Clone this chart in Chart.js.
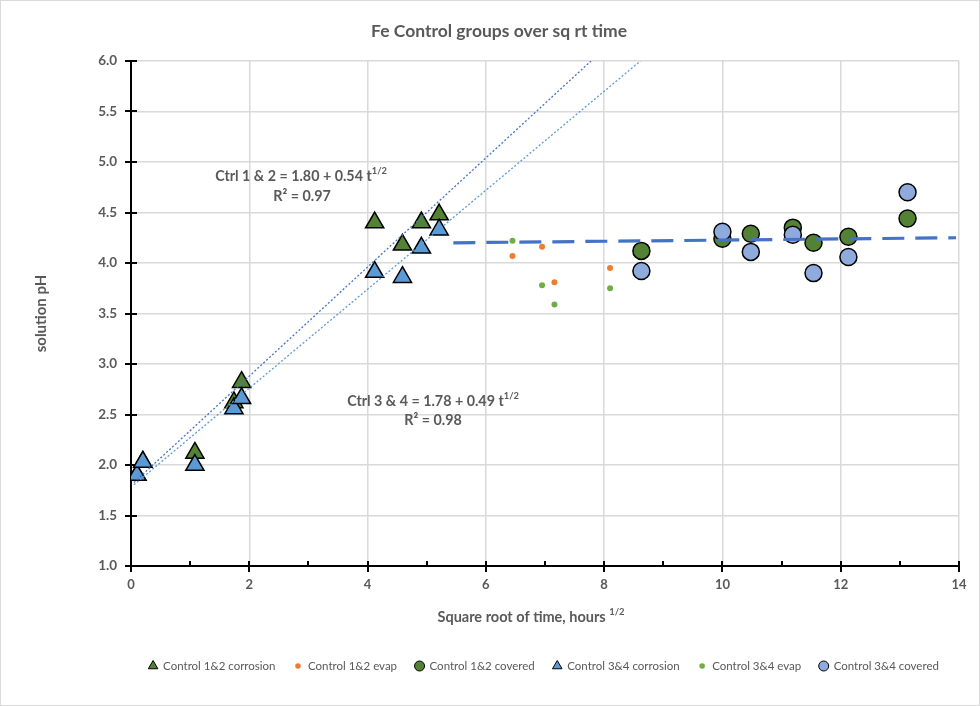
<!DOCTYPE html>
<html>
<head>
<meta charset="utf-8">
<script src="https://cdn.jsdelivr.net/npm/chart.js@4.4.1/dist/chart.umd.min.js"></script>
<style>
  body { margin: 0; background: #fff; }
  #wrap { width: 980px; height: 706px; }
</style>
</head>
<body>
<div id="wrap"><canvas id="phChart" width="980" height="706"></canvas></div>
<script>
// values (x = sqrt of hours, y = pH)
const corrX = [0.10, 0.20, 1.08, 1.74, 1.87, 4.12, 4.59, 4.91, 5.21];
const ctrl12CorrY = [1.90, 2.03, 2.12, 2.62, 2.82, 4.40, 4.18, 4.40, 4.48];
const ctrl34CorrY = [1.90, 2.03, 2.00, 2.56, 2.66, 3.91, 3.86, 4.15, 4.33];

const evapX = [6.45, 6.95, 7.16, 8.10];
const ctrl12EvapY = [4.07, 4.16, 3.81, 3.95];
const ctrl34EvapY = [4.22, 3.78, 3.59, 3.75];

const coveredX = [8.63, 10.00, 10.48, 11.19, 11.54, 12.13, 13.13];
const ctrl12CovY = [4.12, 4.24, 4.29, 4.35, 4.20, 4.26, 4.44];
const ctrl34CovY = [3.92, 4.31, 4.11, 4.28, 3.90, 4.06, 4.70];

// fitted lines from the chart labels: pH = a + b * t^1/2
const fit12 = [1.80, 0.54];
const fit34 = [1.78, 0.49];
const plateauX = [5.45, 13.95];
const plateauY = [4.20, 4.25];

const xTicks = [0, 2, 4, 6, 8, 10, 12, 14];
const yTicks = [1.0, 1.5, 2.0, 2.5, 3.0, 3.5, 4.0, 4.5, 5.0, 5.5, 6.0];

const FONT = 'Lato, "Open Sans", sans-serif';
const GREY = '#595959';

function pts(xs, ys) {
  return xs.map((x, i) => ({ x: x, y: ys[i] }));
}
function fitLine(f) {
  const x0 = 0.05, x1 = (6 - f[0]) / f[1];
  return [{ x: x0, y: f[0] + f[1] * x0 }, { x: x1, y: f[0] + f[1] * x1 }];
}

// text with a superscript part
function richText(ctx, parts, cx, cy, size) {
  let w = 0;
  parts.forEach(p => {
    ctx.font = 'bold ' + (p.sup ? size * 0.65 : size) + 'px ' + FONT;
    p.w = ctx.measureText(p.t).width;
    w += p.w;
  });
  let x = cx - w / 2;
  ctx.textAlign = 'left';
  ctx.textBaseline = 'middle';
  parts.forEach(p => {
    ctx.font = 'bold ' + (p.sup ? size * 0.65 : size) + 'px ' + FONT;
    ctx.fillText(p.t, x, p.sup ? cy - size * 0.35 : cy);
    x += p.w;
  });
}

const extras = {
  id: 'extras',
  beforeDatasetsDraw(chart) {
    const ctx = chart.ctx, xs = chart.scales.x, ys = chart.scales.y;
    const a = chart.chartArea;
    ctx.save();
    ctx.strokeStyle = '#000';
    ctx.lineWidth = 2;
    ctx.beginPath();
    ctx.moveTo(a.left, a.bottom);
    ctx.lineTo(a.right, a.bottom);
    yTicks.forEach(v => {
      const py = Math.round(ys.getPixelForValue(v));
      ctx.moveTo(a.left - 6, py);
      ctx.lineTo(a.left + 6, py);
    });
    xTicks.forEach(v => {
      const px = Math.round(xs.getPixelForValue(v));
      ctx.moveTo(px, a.bottom - 5);
      ctx.lineTo(px, a.bottom + 6);
      if (v < 14) {
        const pm = Math.round(xs.getPixelForValue(v + 1));
        ctx.moveTo(pm, a.bottom - 5);
        ctx.lineTo(pm, a.bottom);
      }
    });
    ctx.stroke();
    ctx.restore();
  },
  afterDraw(chart) {
    const ctx = chart.ctx;
    ctx.save();
    ctx.fillStyle = GREY;
    ctx.font = 'bold 17.5px ' + FONT;
    ctx.textAlign = 'center';
    ctx.textBaseline = 'middle';
    ctx.fillText('Fe Control groups over sq rt time', 499, 31);

    richText(ctx, [{ t: 'Square root of time, hours ' }, { t: '1/2', sup: true }], 531, 617, 14.5);

    richText(ctx, [{ t: 'Ctrl 1 & 2 = 1.80 + 0.54 t' }, { t: '1/2', sup: true }], 301, 176, 14.3);
    richText(ctx, [{ t: 'R² = 0.97' }], 302, 196, 14.3);
    richText(ctx, [{ t: 'Ctrl 3 & 4 = 1.78 + 0.49 t' }, { t: '1/2', sup: true }], 433, 401, 14.3);
    richText(ctx, [{ t: 'R² = 0.98' }], 433, 420, 14.3);

    // legend
    const items = chart.data.datasets.filter(d => d.inLegend);
    ctx.font = '11.5px ' + FONT;
    const gap = 18.5, mark = 14;
    let total = 0;
    items.forEach(d => { d._lw = ctx.measureText(d.label).width; total += mark + d._lw + gap; });
    total -= gap;
    let x = 544 - total / 2;
    const ly = 666;
    items.forEach(d => {
      const r = d.pointStyle === 'triangle' ? 5.5 : (d.pointRadius > 4 ? 5 : 2.8);
      ctx.fillStyle = d.backgroundColor;
      ctx.strokeStyle = d.borderColor;
      ctx.lineWidth = 1;
      ctx.beginPath();
      if (d.pointStyle === 'triangle') {
        ctx.moveTo(x + 4, ly - r);
        ctx.lineTo(x + 4 + r * 0.87, ly + r * 0.5);
        ctx.lineTo(x + 4 - r * 0.87, ly + r * 0.5);
        ctx.closePath();
      } else {
        ctx.arc(x + 4, ly, r, 0, Math.PI * 2);
      }
      ctx.fill();
      if (d.borderWidth) ctx.stroke();
      ctx.fillStyle = GREY;
      ctx.textAlign = 'left';
      ctx.fillText(d.label, x + mark, ly);
      x += mark + d._lw + gap;
    });

    ctx.strokeStyle = '#d9d9d9';
    ctx.lineWidth = 1;
    ctx.strokeRect(0.5, 0.5, 979, 705);
    ctx.restore();
  }
};

const ctx = document.getElementById('phChart').getContext('2d');
const phChart = new Chart(ctx, {
  type: 'scatter',
  data: {
    datasets: [
      { label: 'Control 1&2 corrosion', data: pts(corrX, ctrl12CorrY), inLegend: true, order: 6,
        pointStyle: 'triangle', pointRadius: 10.5, backgroundColor: '#548235', borderColor: '#000', borderWidth: 1.5 },
      { label: 'Control 1&2 evap', data: pts(evapX, ctrl12EvapY), inLegend: true, order: 5,
        pointStyle: 'circle', pointRadius: 3, backgroundColor: '#ED7D31', borderColor: '#ED7D31', borderWidth: 0 },
      { label: 'Control 1&2 covered', data: pts(coveredX, ctrl12CovY), inLegend: true, order: 4,
        pointStyle: 'circle', pointRadius: 8.5, backgroundColor: '#548235', borderColor: '#000', borderWidth: 1.5 },
      { label: 'Control 3&4 corrosion', data: pts(corrX, ctrl34CorrY), inLegend: true, order: 3,
        pointStyle: 'triangle', pointRadius: 10.5, backgroundColor: '#5B9BD5', borderColor: '#000', borderWidth: 1.5 },
      { label: 'Control 3&4 evap', data: pts(evapX, ctrl34EvapY), inLegend: true, order: 2,
        pointStyle: 'circle', pointRadius: 3, backgroundColor: '#70AD47', borderColor: '#70AD47', borderWidth: 0 },
      { label: 'Control 3&4 covered', data: pts(coveredX, ctrl34CovY), inLegend: true, order: 1,
        pointStyle: 'circle', pointRadius: 8.5, backgroundColor: '#8FAADC', borderColor: '#000', borderWidth: 1.5 },
      { label: 'fit 1&2', data: fitLine(fit12), showLine: true, order: 0, pointRadius: 0,
        borderColor: '#4472C4', borderWidth: 1.3, borderDash: [2, 2] },
      { label: 'fit 3&4', data: fitLine(fit34), showLine: true, order: 0, pointRadius: 0,
        borderColor: '#5B9BD5', borderWidth: 1.3, borderDash: [2, 2] },
      { label: 'plateau', data: pts(plateauX, plateauY), showLine: true, order: 0, pointRadius: 0,
        borderColor: '#4472C4', borderWidth: 3.2, borderDash: [22, 11] }
    ]
  },
  options: {
    responsive: false,
    animation: false,
    layout: { padding: { left: 0, right: 21, top: 61, bottom: 0 } },
    plugins: { legend: { display: false }, tooltip: { enabled: false } },
    scales: {
      x: {
        min: 0, max: 14,
        afterFit: s => { s.height = 140; },
        afterBuildTicks: s => { s.ticks = xTicks.map(v => ({ value: v })); },
        grid: { color: '#d9d9d9', lineWidth: 1.5, drawTicks: false },
        border: { display: false },
        ticks: { padding: 11, color: GREY, font: { family: FONT, size: 13, weight: 'bold' } }
      },
      y: {
        min: 1, max: 6,
        afterFit: s => { s.width = 131; },
        afterBuildTicks: s => { s.ticks = yTicks.map(v => ({ value: v })); },
        grid: { color: '#d9d9d9', lineWidth: 1.5, drawTicks: false },
        border: { display: true, color: '#000', width: 2 },
        ticks: { padding: 14, color: GREY, callback: v => v.toFixed(1),
                 font: { family: FONT, size: 13.5, weight: 'bold' } },
        title: { display: true, text: 'solution pH', color: GREY, padding: { top: 32, bottom: 0 },
                 font: { family: FONT, size: 15, weight: 'bold' } }
      }
    }
  },
  plugins: [extras]
});
</script>
</body>
</html>
